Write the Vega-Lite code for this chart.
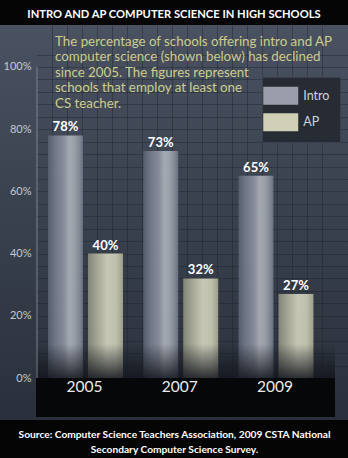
{
  "$schema": "https://vega.github.io/schema/vega-lite/v6.json",
  "width": 348,
  "height": 395,
  "autosize": {"type": "none"},
  "padding": {"top": 25, "bottom": 38, "left": 0, "right": 0},
  "background": "#050505",
  "title": {
    "text": "INTRO AND AP COMPUTER SCIENCE IN HIGH SCHOOLS",
    "anchor": "middle",
    "frame": "group",
    "baseline": "alphabetic",
    "offset": -4,
    "color": "#ffffff",
    "font": "Lato",
    "fontSize": 11.2,
    "fontWeight": "bold"
  },
  "config": {
    "view": {
      "stroke": null,
      "fill": {"gradient": "linear", "x1": 0, "y1": 0, "x2": 0, "y2": 1,
        "stops": [{"offset": 0, "color": "#4a5262"}, {"offset": 0.45, "color": "#3a424f"}, {"offset": 1, "color": "#2a303b"}]}
    }
  },
  "datasets": {
    "schools": [
      {"year": "2005", "course": "Intro", "share": 0.78},
      {"year": "2005", "course": "AP", "share": 0.40},
      {"year": "2007", "course": "Intro", "share": 0.73},
      {"year": "2007", "course": "AP", "share": 0.32},
      {"year": "2009", "course": "Intro", "share": 0.65},
      {"year": "2009", "course": "AP", "share": 0.27}
    ]
  },
  "layer": [
    {
      "data": {"values": [{}]},
      "mark": {"type": "rect",
        "fill": {"gradient": "linear", "x1": 0, "y1": 0, "x2": 0, "y2": 1,
          "stops": [{"offset": 0, "color": "#4a5262"}, {"offset": 0.45, "color": "#3a424f"}, {"offset": 1, "color": "#2a303b"}]}},
      "encoding": {
        "x": {"datum": -2.4667, "type": "quantitative",
          "scale": {"domain": [-2.4667, 20.7333], "nice": false, "zero": false},
          "axis": {"orient": "top", "values": [1, 2, 3, 4, 5, 6, 7, 8, 9, 10, 11, 12, 13, 14, 15, 16, 17, 18, 19],
            "grid": true, "gridColor": "#1c2129", "gridOpacity": 0.4, "labels": false, "ticks": false, "domain": false, "title": null}},
        "x2": {"datum": 0},
        "y": {"datum": -0.135, "type": "quantitative",
          "scale": {"domain": [-0.135, 1.135], "nice": false, "zero": false},
          "axis": {"orient": "right", "values": [0.04, 0.08, 0.12, 0.16, 0.2, 0.24, 0.28, 0.32, 0.36, 0.4, 0.44, 0.48, 0.52, 0.56, 0.6, 0.64, 0.68, 0.72, 0.76, 0.8, 0.84, 0.88, 0.92, 0.96, 1.0, 1.04],
            "grid": true, "gridColor": "#1c2129", "gridOpacity": 0.4, "labels": false, "ticks": false, "domain": false, "title": null}},
        "y2": {"datum": 1.135}
      }
    },
    {
      "layer": [
        {
          "data": {"name": "schools"},
          "mark": {"type": "bar", "opacity": 0},
          "encoding": {
            "x": {"field": "year", "type": "nominal",
              "scale": {"domain": ["2005", "2007", "2009"], "paddingInner": 0, "paddingOuter": 0.3268, "align": 0.594},
              "axis": {"orient": "bottom", "labels": false, "ticks": false, "domain": false, "grid": false,
                "title": ["Source: Computer Science Teachers Association, 2009 CSTA National", "Secondary Computer Science Survey."],
                "titleColor": "#ffffff", "titleFont": "Lato",
                "titleFontSize": 10.2, "titleFontWeight": "bold", "titlePadding": 9, "titleLineHeight": 15}},
            "xOffset": {"field": "course", "type": "nominal",
              "scale": {"domain": ["Intro", "AP"], "paddingInner": 0.125, "paddingOuter": 0.253, "align": 0.543}},
            "y": {"field": "share", "type": "quantitative",
              "scale": {"domain": [-0.135, 1.135], "nice": false, "zero": false},
              "axis": {"orient": "left", "offset": -37, "values": [0, 0.2, 0.4, 0.6, 0.8, 1.0], "format": ".0%",
                "grid": false, "ticks": false, "domain": false, "labelPadding": 6, "labelFont": "Lato",
                "labelFontSize": 11, "labelColor": "#c4c8d0", "title": null, "zindex": 1}},
            "color": {"field": "course", "type": "nominal",
              "scale": {"domain": ["Intro", "AP"], "range": ["#9a9eaa", "#cfcfb6"]},
              "legend": {"orient": "none", "legendX": 262, "legendY": 52, "direction": "vertical", "title": null,
                "symbolType": "M-2,-1.03H2V1.03H-2Z", "symbolSize": 306, "symbolStrokeWidth": 0, "symbolOpacity": 1,
                "fillColor": "#262b34", "strokeColor": "#3a414c", "padding": 9.75, "rowPadding": 6.5, "labelOffset": 13.5,
                "labelFont": "Lato", "labelFontSize": 12.5, "labelColor": "#d0d4dc",
                "encode": {"symbols": {"update": {
                  "opacity": {"value": 1},
                  "fill": {"signal": "datum.value === 'Intro' ? {gradient: 'linear', x1: 0, y1: 0, x2: 1, y2: 0, stops: [{offset: 0, color: '#586070'}, {offset: 0.2, color: '#767c8c'}, {offset: 0.45, color: '#8e94a2'}, {offset: 0.6, color: '#b0b4be'}, {offset: 0.75, color: '#a6aab4'}, {offset: 0.9, color: '#8a909c'}, {offset: 1, color: '#6e7484'}]} : {gradient: 'linear', x1: 0, y1: 0, x2: 1, y2: 0, stops: [{offset: 0, color: '#8a8c7c'}, {offset: 0.25, color: '#b0b09c'}, {offset: 0.55, color: '#d6d6c0'}, {offset: 0.8, color: '#cfcfb8'}, {offset: 1, color: '#a8a894'}]}"}
                }}}}}
          }
        },
        {
          "data": {"name": "schools"},
          "mark": {"type": "bar", "opacity": 0.9},
          "encoding": {
            "x": {"field": "year", "type": "nominal"},
            "xOffset": {"field": "course", "type": "nominal"},
            "y": {"field": "share", "type": "quantitative"},
            "fill": {
              "condition": {"test": "datum.course === 'Intro'",
                "value": {"gradient": "linear", "x1": 0, "y1": 0, "x2": 1, "y2": 0,
                  "stops": [{"offset": 0, "color": "#586070"}, {"offset": 0.2, "color": "#767c8c"}, {"offset": 0.45, "color": "#8e94a2"}, {"offset": 0.6, "color": "#b0b4be"}, {"offset": 0.75, "color": "#a6aab4"}, {"offset": 0.9, "color": "#8a909c"}, {"offset": 1, "color": "#6e7484"}]}},
              "value": {"gradient": "linear", "x1": 0, "y1": 0, "x2": 1, "y2": 0,
                "stops": [{"offset": 0, "color": "#8a8c7c"}, {"offset": 0.25, "color": "#b0b09c"}, {"offset": 0.55, "color": "#d6d6c0"}, {"offset": 0.8, "color": "#cfcfb8"}, {"offset": 1, "color": "#a8a894"}]}
            }
          }
        },
        {
          "data": {"values": [{}]},
          "mark": {"type": "rect",
            "fill": {"gradient": "linear", "x1": 0, "y1": 0, "x2": 0, "y2": 1,
              "stops": [{"offset": 0, "color": "rgba(18,21,28,0)"}, {"offset": 1, "color": "rgba(18,21,28,0.85)"}]}},
          "encoding": {
            "x": {"datum": "2005", "bandPosition": -0.01},
            "x2": {"datum": "2009", "bandPosition": 1.129},
            "y": {"datum": 0.11, "type": "quantitative"},
            "y2": {"datum": 0}
          }
        },
        {
          "data": {"values": [{}]},
          "mark": {"type": "rect", "color": "#060708"},
          "encoding": {
            "x": {"datum": "2005", "bandPosition": -0.01},
            "x2": {"datum": "2009", "bandPosition": 1.129},
            "y": {"datum": 0, "type": "quantitative"},
            "y2": {"datum": -0.125}
          }
        },
        {
          "data": {"values": [{}]},
          "mark": {"type": "rule", "color": "#7c828e", "strokeWidth": 1},
          "encoding": {
            "x": {"datum": "2005", "bandPosition": 0},
            "y": {"datum": 0, "type": "quantitative"},
            "y2": {"datum": 1.0}
          }
        },
        {
          "data": {"name": "schools"},
          "mark": {"type": "text", "font": "Lato", "fontSize": 13, "fontWeight": "bold", "color": "#ffffff", "baseline": "alphabetic", "dy": -4},
          "encoding": {
            "x": {"field": "year", "type": "nominal"},
            "xOffset": {"field": "course", "type": "nominal"},
            "y": {"field": "share", "type": "quantitative"},
            "text": {"field": "share", "type": "quantitative", "format": ".0%"}
          }
        },
        {
          "data": {"name": "schools"},
          "transform": [{"filter": {"field": "course", "equal": "Intro"}}],
          "mark": {"type": "text", "font": "Lato", "fontSize": 15.5, "color": "#ececec", "baseline": "middle"},
          "encoding": {
            "x": {"field": "year", "type": "nominal"},
            "y": {"datum": -0.029, "type": "quantitative"},
            "text": {"field": "year", "type": "nominal"}
          }
        },
        {
          "data": {"values": [{}]},
          "mark": {"type": "text", "align": "left", "baseline": "alphabetic", "font": "Lato", "fontSize": 13.3,
            "lineHeight": 15.6, "color": "#cdcd8c",
            "text": ["The percentage of schools offering intro and AP", "computer science (shown below) has declined", "since 2005. The figures represent", "schools that employ at least one", "CS teacher."]},
          "encoding": {
            "x": {"datum": "2005", "bandPosition": 0.19},
            "y": {"datum": 1.069, "type": "quantitative"}
          }
        }
      ]
    }
  ],
  "resolve": {"scale": {"x": "independent"}, "axis": {"x": "independent", "y": "independent"}}
}
